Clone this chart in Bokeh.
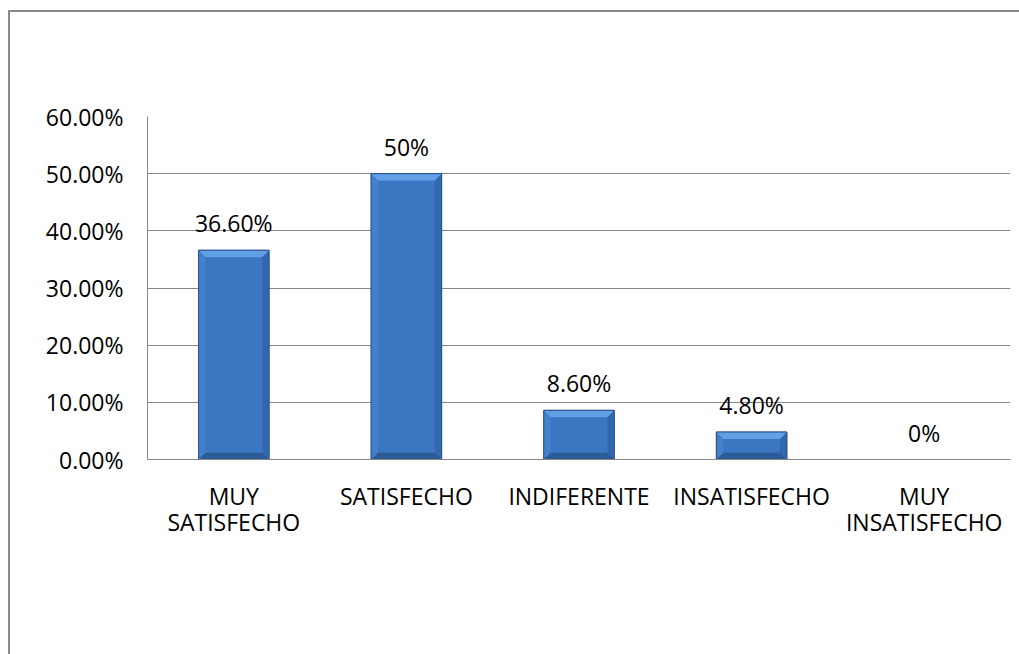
from bokeh.plotting import figure
from bokeh.layouts import column
from bokeh.models import Range1d, FixedTicker, NumeralTickFormatter, ColumnDataSource
from bokeh.core.properties import value
from bokeh.embed import file_html
from bokeh.resources import INLINE

categories = ["MUY\nSATISFECHO", "SATISFECHO", "INDIFERENTE", "INSATISFECHO", "MUY\nINSATISFECHO"]
values = [0.366, 0.50, 0.086, 0.048, 0.0]
value_labels = ["36.60%", "50%", "8.60%", "4.80%", "0%"]
y_ticks = [0.0, 0.1, 0.2, 0.3, 0.4, 0.5, 0.6]

FONT = "Open Sans"
GRID = "#868686"
FS = "23px"

xs = [i + 0.5 for i in range(len(categories))]

p = figure(width=1009, height=642, output_backend="svg", toolbar_location=None,
           x_range=Range1d(0, len(categories)), y_range=Range1d(0, 0.6),
           min_border_left=137, min_border_top=104, min_border_right=9, min_border_bottom=195)
p.outline_line_color = None
p.background_fill_color = "white"
p.border_fill_color = "white"

# grid
p.xgrid.visible = False
p.ygrid.ticker = FixedTicker(ticks=y_ticks)
p.ygrid.grid_line_color = GRID
p.ygrid.grid_line_width = 1

# axes
p.yaxis.ticker = FixedTicker(ticks=y_ticks)
p.yaxis.formatter = NumeralTickFormatter(format="0.00%")
p.xaxis.ticker = FixedTicker(ticks=xs)
p.xaxis.major_label_overrides = {x: c for x, c in zip(xs, categories)}
for ax in (p.xaxis, p.yaxis):
    ax.axis_line_color = GRID
    ax.axis_line_width = 1
    ax.major_tick_line_color = None
    ax.minor_tick_line_color = None
    ax.major_tick_out = 0
    ax.major_tick_in = 0
    ax.major_label_text_font = FONT
    ax.major_label_text_font_size = FS
    ax.major_label_text_color = "#000000"
p.yaxis.major_label_standoff = 24
p.xaxis.major_label_standoff = 20
p.xaxis.major_label_text_line_height = 0.82

W = 0.408
src = ColumnDataSource(dict(x=xs, top=values, lbl=value_labels))
p.vbar(x="x", top="top", bottom=0, width=W, source=src,
       fill_color="#3B76C2", line_color="#2A5590", line_width=1)

# bevel facets derived from the bar values
dx = 0.04
dy = 0.012
tops_x, tops_y, bot_x, bot_y, lft_x, lft_y, rgt_x, rgt_y = [], [], [], [], [], [], [], []
for x, v in zip(xs, values):
    if v <= 2 * dy:
        continue
    l, r = x - W / 2, x + W / 2
    tops_x.append([l, r, r - dx, l + dx]); tops_y.append([v, v, v - dy, v - dy])
    bot_x.append([l, r, r - dx, l + dx]); bot_y.append([0, 0, dy, dy])
    lft_x.append([l, l + dx, l + dx, l]); lft_y.append([v, v - dy, dy, 0])
    rgt_x.append([r, r - dx, r - dx, r]); rgt_y.append([v, v - dy, dy, 0])
p.patches(lft_x, lft_y, fill_color="#4380CC", line_color=None)
p.patches(rgt_x, rgt_y, fill_color="#3368AE", line_color=None)
p.patches(bot_x, bot_y, fill_color="#2D5B98", line_color=None)
p.patches(tops_x, tops_y, fill_color="#62A0E6", line_color=None)
p.vbar(x="x", top="top", bottom=0, width=W, source=src,
       fill_color=None, line_color="#2A5590", line_width=1)

p.text(x="x", y="top", text="lbl", source=src, text_align="center", text_baseline="middle",
       y_offset=-27, text_font=value(FONT), text_font_size=FS, text_color="#000000")

layout = column(p, styles={"border-left": "2px solid #898989", "border-top": "2px solid #898989",
                           "border-right": "none", "border-bottom": "none",
                           "margin-left": "8px", "margin-top": "10px"})

open("out.html", "w").write(file_html(layout, INLINE))
